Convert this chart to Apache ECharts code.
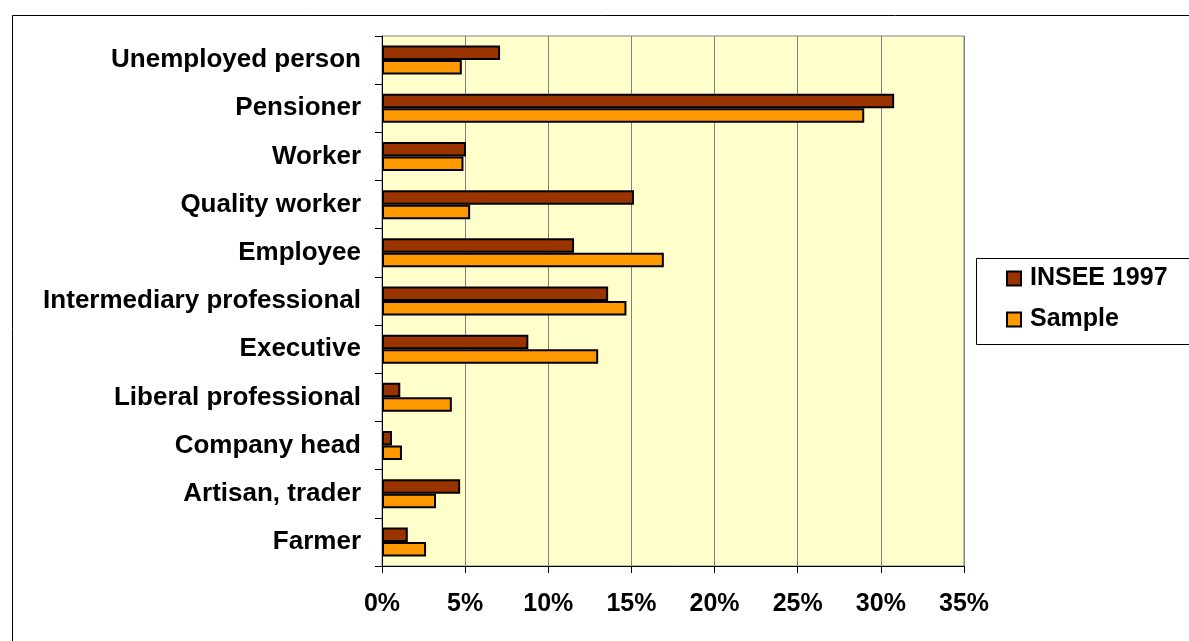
<!DOCTYPE html>
<html>
<head>
<meta charset="utf-8">
<script src="https://cdn.jsdelivr.net/npm/echarts@6/dist/echarts.min.js"></script>
<style>
  html, body { margin: 0; padding: 0; background: #fff; }
  #main { width: 1189px; height: 641px; }
</style>
</head>
<body>
<div id="main"></div>
<script>
// categories, top to bottom
const categories = ['Unemployed person', 'Pensioner', 'Worker', 'Quality worker', 'Employee',
  'Intermediary professional', 'Executive', 'Liberal professional', 'Company head',
  'Artisan, trader', 'Farmer'];
const insee1997 = [7.1, 30.8, 5.05, 15.15, 11.55, 13.6, 8.8, 1.1, 0.6, 4.7, 1.55];
const sample = [4.8, 29.0, 4.9, 5.3, 16.95, 14.7, 13.0, 4.2, 1.2, 3.25, 2.65];
const xTicks = [0, 5, 10, 15, 20, 25, 30, 35];

const font = 'Liberation Sans, Arial, sans-serif';

let chart = echarts.init(document.getElementById('main'));
chart.setOption({
  animation: false,
  backgroundColor: '#fff',
  textStyle: { fontFamily: font },
  graphic: [
    // outer chart frame
    { type: 'rect', shape: { x: 12.5, y: 15.5, width: 1200, height: 700 },
      style: { fill: 'none', stroke: '#000', lineWidth: 1 }, z: -10 },
    // legend box
    { type: 'rect', shape: { x: 976.5, y: 258.5, width: 230, height: 86 },
      style: { fill: '#fff', stroke: '#000', lineWidth: 1 }, z: 0 }
  ],
  grid: {
    left: 382, top: 36, width: 582, height: 530,
    show: true, backgroundColor: '#FFFFCC', borderColor: '#808080', borderWidth: 1,
    containLabel: false
  },
  legend: {
    orient: 'vertical', left: 1006, top: 266, itemGap: 16, padding: 0,
    itemWidth: 14, itemHeight: 14, icon: 'rect', z: 5,
    textStyle: { fontFamily: font, fontWeight: 'bold', fontSize: 25, lineHeight: 25, color: '#000', padding: [0, 0, 0, 4] },
    data: ['INSEE 1997', 'Sample']
  },
  xAxis: {
    type: 'value', min: 0, max: 35, interval: 5,
    axisLine: { show: true, lineStyle: { color: '#000', width: 1 } },
    axisTick: { show: true, length: 7, lineStyle: { color: '#000' } },
    axisLabel: {
      margin: 26, fontFamily: font, fontWeight: 'bold', fontSize: 25, color: '#000',
      formatter: v => xTicks.includes(v) ? v + '%' : ''
    },
    splitLine: { show: true, lineStyle: { color: '#808080', width: 1 } }
  },
  yAxis: {
    type: 'category', data: categories, inverse: true,
    axisLine: { show: true, lineStyle: { color: '#000', width: 1 } },
    axisTick: { show: true, length: 7, lineStyle: { color: '#000' } },
    axisLabel: { margin: 21, fontFamily: font, fontWeight: 'bold', fontSize: 26, color: '#000' },
    splitLine: { show: false }
  },
  series: [
    {
      name: 'INSEE 1997', type: 'bar', data: insee1997, barWidth: 14.5, barGap: '0%',
      itemStyle: { color: '#993300', borderColor: '#000', borderWidth: 2 }
    },
    {
      name: 'Sample', type: 'bar', data: sample, barWidth: 14.5, barGap: '0%',
      itemStyle: { color: '#FF9900', borderColor: '#000', borderWidth: 2 }
    }
  ]
});
</script>
</body>
</html>
